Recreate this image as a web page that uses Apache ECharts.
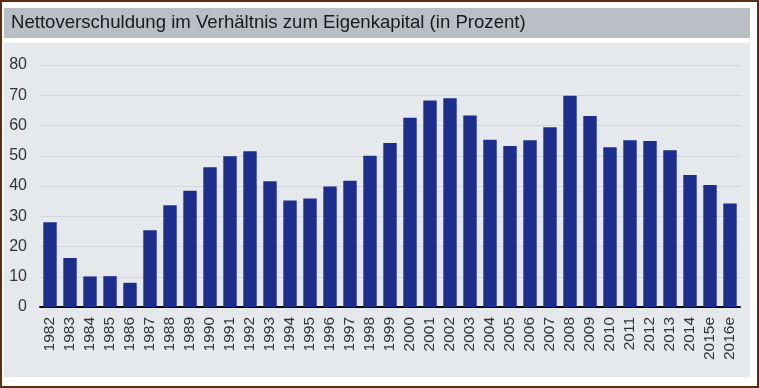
<!DOCTYPE html>
<html>
<head>
<meta charset="utf-8">
<script src="https://cdn.jsdelivr.net/npm/echarts@6/dist/echarts.min.js"></script>
<style>
html,body{margin:0;padding:0;background:#fff;}
#wrap{position:absolute;left:0;top:0;width:755px;height:384px;border:2px solid #5b3012;background:#fff;}
#chart{position:absolute;left:-2px;top:-2px;width:759px;height:388px;}
</style>
</head>
<body>
<div id="wrap"><div id="chart"></div></div>
<script>
const categories = ['1982','1983','1984','1985','1986','1987','1988','1989','1990','1991','1992','1993','1994','1995','1996','1997','1998','1999','2000','2001','2002','2003','2004','2005','2006','2007','2008','2009','2010','2011','2012','2013','2014','2015e','2016e'];
const values = [28,16.2,10.1,10.2,8,25.4,33.6,38.4,46.2,49.8,51.5,41.6,35.2,35.9,39.8,41.7,50,54.2,62.6,68.3,69,63.3,55.3,53.2,55.1,59.4,69.8,63.1,52.8,55.1,54.9,51.8,43.6,40.3,34.2];
const yTicks = [0,10,20,30,40,50,60,70,80];
const titleText = 'Nettoverschuldung im Verhältnis zum Eigenkapital (in Prozent)';

const chart = echarts.init(document.getElementById('chart'));
chart.setOption({
  animation: false,
  backgroundColor: 'transparent',
  graphic: [
    {type:'rect', z:-10, shape:{x:4,y:8,width:746,height:30}, style:{fill:'#b9bfc4'}},
    {type:'rect', z:-10, shape:{x:4,y:43,width:746,height:334}, style:{fill:'#e6e9ec'}}
  ],
  title: {
    text: titleText, left: 6, top: 8,
    textStyle: {fontFamily:'Liberation Sans, Arial, sans-serif', fontSize:18.6, fontWeight:'normal', color:'#1a1a1a'}
  },
  grid: {left:40, right:19, top:65, bottom:81, containLabel:false},
  xAxis: {
    type:'category', data:categories,
    axisLine:{show:true, lineStyle:{color:'#000', width:2}},
    axisTick:{show:false},
    axisLabel:{rotate:90, interval:0, margin:10, fontFamily:'Liberation Sans, Arial, sans-serif', fontSize:15.5, color:'#333'}
  },
  yAxis: {
    type:'value', min:yTicks[0], max:yTicks[yTicks.length-1], interval:10,
    axisLine:{show:false}, axisTick:{show:false},
    splitLine:{lineStyle:{color:'#d2d6da', width:1}},
    axisLabel:{margin:13, fontFamily:'Liberation Sans, Arial, sans-serif', fontSize:16, color:'#333'}
  },
  series: [{
    type:'bar', data:values, barWidth:'67%',
    itemStyle:{color:'#1b2e8e'}
  }]
});
</script>
</body>
</html>
